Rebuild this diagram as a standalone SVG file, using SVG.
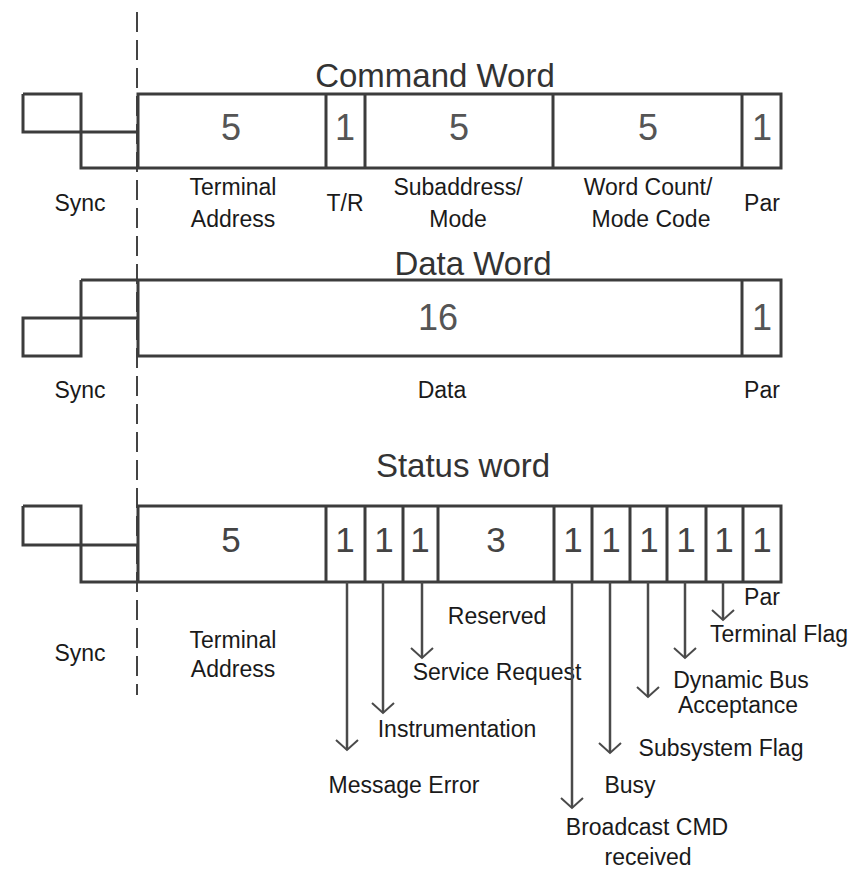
<svg xmlns="http://www.w3.org/2000/svg" width="855" height="869" viewBox="0 0 855 869">
<style>
  .ln { fill: none; stroke: #3c3c3c; stroke-width: 3; }
  .box { fill: #ffffff; stroke: #3c3c3c; stroke-width: 3; }
  .title { font-family: "Liberation Sans", Arial, sans-serif; font-size: 33px; fill: #333; text-anchor: middle; }
  .num { font-family: "Liberation Sans", Arial, sans-serif; font-size: 36px; fill: #555; text-anchor: middle; }
  .snum { font-family: "Liberation Sans", Arial, sans-serif; font-size: 35px; fill: #444; text-anchor: middle; }
  .lbl { font-family: "Liberation Sans", Arial, sans-serif; font-size: 23px; fill: #1a1a1a; text-anchor: middle; }
  .dash { fill: none; stroke: #444; stroke-width: 2; stroke-dasharray: 20 8; }
  .arr { fill: none; stroke: #4a4a4a; stroke-width: 2.5; marker-end: url(#head); }
</style>
<defs>
  <marker id="head" markerUnits="userSpaceOnUse" markerWidth="30" markerHeight="30" viewBox="-15 -15 30 30" refX="0" refY="0" orient="auto" overflow="visible">
    <path d="M-10,-11 L0,0 L-10,11" fill="none" stroke="#4a4a4a" stroke-width="2"/>
  </marker>
</defs>
<rect width="855" height="869" fill="#ffffff"/>

<line id="divider" class="dash" x1="137" y1="12" x2="137" y2="695"/>

<g id="command-word">
  <text class="title" x="435" y="87" font-size="34">Command Word</text>
  <path class="ln" d="M23,94 H81 V168 H138 M23,94 V132 H138"/>
  <rect class="box" x="138" y="94" width="643" height="74"/>
  <path class="ln" d="M326,94 V168 M365,94 V168 M553,94 V168 M742,94 V168"/>
  <text class="num" x="231" y="140">5</text>
  <text class="num" x="345" y="140">1</text>
  <text class="num" x="459" y="140">5</text>
  <text class="num" x="648" y="140">5</text>
  <text class="num" x="762" y="140">1</text>
  <text class="lbl" x="80" y="211">Sync</text>
  <text class="lbl" x="233" y="195">Terminal</text>
  <text class="lbl" x="233" y="227">Address</text>
  <text class="lbl" x="345" y="211">T/R</text>
  <text class="lbl" x="458" y="195">Subaddress/</text>
  <text class="lbl" x="458" y="227">Mode</text>
  <text class="lbl" x="648" y="195">Word Count/</text>
  <text class="lbl" x="651" y="227">Mode Code</text>
  <text class="lbl" x="762" y="211">Par</text>
</g>

<g id="data-word">
  <text class="title" x="473" y="275">Data Word</text>
  <path class="ln" d="M81,280 V356 H23 V318 H138"/>
  <path class="ln" d="M81,280 H138"/>
  <rect class="box" x="138" y="280" width="643" height="76"/>
  <path class="ln" d="M742,280 V356"/>
  <text class="num" x="438" y="330">16</text>
  <text class="num" x="762" y="330">1</text>
  <text class="lbl" x="80" y="398">Sync</text>
  <text class="lbl" x="442" y="398">Data</text>
  <text class="lbl" x="762" y="398">Par</text>
</g>

<g id="status-word">
  <text class="title" x="463" y="477">Status word</text>
  <path class="ln" d="M23,506 H81 V582 H138 M23,506 V545 H138"/>
  <rect class="box" x="138" y="506" width="643" height="76"/>
  <path class="ln" d="M326,506 V582 M365,506 V582 M403,506 V582 M438,506 V582 M554,506 V582 M592,506 V582 M630,506 V582 M667,506 V582 M706,506 V582 M743,506 V582"/>
  <text class="snum" x="231" y="552">5</text>
  <text class="snum" x="345" y="552">1</text>
  <text class="snum" x="384" y="552">1</text>
  <text class="snum" x="420" y="552">1</text>
  <text class="snum" x="496" y="552">3</text>
  <text class="snum" x="573" y="552">1</text>
  <text class="snum" x="611" y="552">1</text>
  <text class="snum" x="649" y="552">1</text>
  <text class="snum" x="686" y="552">1</text>
  <text class="snum" x="724" y="552">1</text>
  <text class="snum" x="762" y="552">1</text>
  <text class="lbl" x="80" y="661">Sync</text>
  <text class="lbl" x="233" y="648">Terminal</text>
  <text class="lbl" x="233" y="677">Address</text>
</g>

<g id="status-labels">
  <text class="lbl" x="497" y="624">Reserved</text>
  <text class="lbl" x="762" y="605">Par</text>
  <text class="lbl" x="779" y="642">Terminal Flag</text>
  <text class="lbl" x="741" y="688">Dynamic Bus</text>
  <text class="lbl" x="738" y="713">Acceptance</text>
  <text class="lbl" x="497" y="680">Service Request</text>
  <text class="lbl" x="457" y="737">Instrumentation</text>
  <text class="lbl" x="721" y="756">Subsystem Flag</text>
  <text class="lbl" x="404" y="793">Message Error</text>
  <text class="lbl" x="630" y="793">Busy</text>
  <text class="lbl" x="647" y="835">Broadcast CMD</text>
  <text class="lbl" x="648" y="865">received</text>
</g>

<g id="connectors">
  <line class="arr" x1="347" y1="582" x2="347" y2="750"/>
  <line class="arr" x1="383" y1="582" x2="383" y2="713"/>
  <line class="arr" x1="422" y1="582" x2="422" y2="658"/>
  <line class="arr" x1="572" y1="582" x2="572" y2="808"/>
  <line class="arr" x1="610" y1="582" x2="610" y2="753"/>
  <line class="arr" x1="648" y1="582" x2="648" y2="697"/>
  <line class="arr" x1="685" y1="582" x2="685" y2="658"/>
  <line class="arr" x1="723" y1="582" x2="723" y2="620"/>
</g>
</svg>
